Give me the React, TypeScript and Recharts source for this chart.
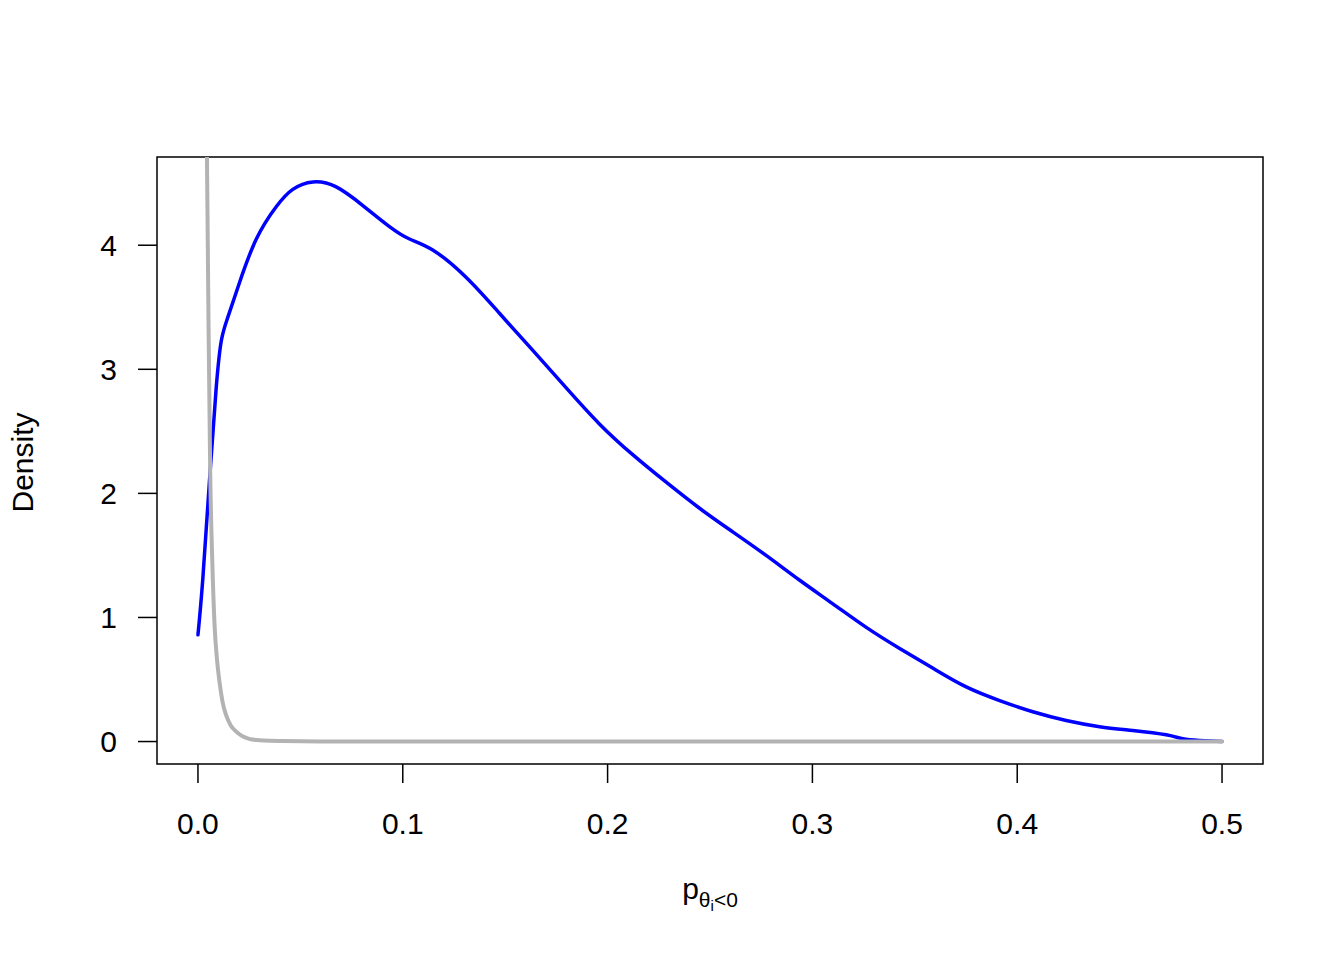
import React from 'react';
import { LineChart, Line, XAxis, YAxis, ReferenceArea, Label } from 'recharts';

// posterior density (blue)
const POSTERIOR_X = [
  0, 0.0024, 0.0057, 0.0089, 0.0114, 0.0146, 0.0203, 0.0285, 0.0382, 0.0463,
  0.0561, 0.0675, 0.0805, 0.0935, 0.1033, 0.1148, 0.131, 0.1473, 0.1636, 0.1798,
  0.196, 0.2124, 0.2286, 0.2449, 0.2611, 0.2774, 0.2938, 0.31, 0.3263, 0.3426,
  0.3589, 0.3751, 0.3914, 0.4076, 0.4239, 0.4402, 0.4564, 0.4727, 0.4808, 0.489, 0.5,
];
const POSTERIOR_Y = [
  0.86, 1.32, 2.12, 2.85, 3.23, 3.42, 3.7, 4.05, 4.31, 4.45,
  4.51, 4.47, 4.32, 4.15, 4.05, 3.96, 3.74, 3.45, 3.15, 2.85,
  2.56, 2.31, 2.09, 1.88, 1.69, 1.5, 1.3, 1.11, 0.92, 0.75,
  0.59, 0.44, 0.33, 0.24, 0.17, 0.12, 0.089, 0.054, 0.022, 0.008, 0,
];

// prior density (grey), shoots off the top near zero
const PRIOR_X = [
  0.002, 0.0035, 0.0044, 0.0052, 0.006, 0.007, 0.0081, 0.0093, 0.0106, 0.012,
  0.0138, 0.016, 0.0187, 0.022, 0.025, 0.03, 0.035, 0.0415, 0.06, 0.1, 0.5,
];
const PRIOR_Y = [
  10, 6.4, 4.7, 3.3, 2.15, 1.45, 0.94, 0.66, 0.47, 0.32,
  0.21, 0.13, 0.08, 0.04, 0.022, 0.011, 0.006, 0.004, 0.001, 0, 0,
];

const X_TICKS = [0, 0.1, 0.2, 0.3, 0.4, 0.5];
const Y_TICKS = [0, 1, 2, 3, 4];

const X_DOMAIN: [number, number] = [-0.02, 0.52];
const Y_DOMAIN: [number, number] = [-0.181, 4.711];

const FONT = '"Liberation Sans", Arial, Helvetica, sans-serif';

const posterior = POSTERIOR_X.map((x, i) => ({ x, y: POSTERIOR_Y[i] }));
const prior = PRIOR_X.map((x, i) => ({ x, y: PRIOR_Y[i] }));

const XLabel = (props: any) => {
  const { viewBox } = props;
  const cx = viewBox.x + viewBox.width / 2;
  const y = viewBox.y + 135;
  return (
    <text x={cx} y={y} textAnchor="middle" fontFamily={FONT} fill="#000">
      <tspan fontSize={30}>p</tspan>
      <tspan fontSize={21} dy={8}>θ</tspan>
      <tspan fontSize={15} dy={4}>i</tspan>
      <tspan fontSize={21} dy={-4}>{'<0'}</tspan>
    </text>
  );
};

const YLabel = (props: any) => {
  const { viewBox } = props;
  const cy = viewBox.y + viewBox.height / 2 + 2;
  const x = 33;
  return (
    <text
      x={x}
      y={cy}
      textAnchor="middle"
      fontFamily={FONT}
      fontSize={30}
      fill="#000"
      transform={`rotate(-90, ${x}, ${cy})`}
    >
      Density
    </text>
  );
};

export default function App() {
  return (
    <div style={{ position: 'absolute', left: 0, top: 0, background: '#fff' }}>
      <LineChart width={1344} height={960} margin={{ top: 157, right: 81, left: 0, bottom: 0 }}>
        <XAxis
          type="number"
          dataKey="x"
          domain={X_DOMAIN}
          ticks={X_TICKS}
          tickFormatter={(v: number) => v.toFixed(1)}
          allowDataOverflow
          height={196}
          axisLine={false}
          tickSize={19}
          tickMargin={30}
          tickLine={{ stroke: '#000', strokeWidth: 1.5 }}
          tick={{ fill: '#000', fontSize: 30, fontFamily: FONT }}
          interval={0}
        >
          <Label content={XLabel} />
        </XAxis>
        <YAxis
          type="number"
          dataKey="y"
          domain={Y_DOMAIN}
          ticks={Y_TICKS}
          allowDataOverflow
          width={157}
          axisLine={false}
          tickSize={19}
          tickMargin={21}
          tickLine={{ stroke: '#000', strokeWidth: 1.5 }}
          tick={{ fill: '#000', fontSize: 30, fontFamily: FONT }}
          interval={0}
        >
          <Label content={YLabel} />
        </YAxis>
        <ReferenceArea
          x1={X_DOMAIN[0]}
          x2={X_DOMAIN[1]}
          y1={Y_DOMAIN[0]}
          y2={Y_DOMAIN[1]}
          fill="none"
          stroke="#000"
          strokeWidth={1.5}
          ifOverflow="visible"
        />
        <Line
          data={posterior}
          dataKey="y"
          type="natural"
          stroke="#0000ff"
          strokeWidth={3.5}
          strokeLinecap="round"
          dot={false}
          activeDot={false}
          isAnimationActive={false}
        />
        <Line
          data={prior}
          dataKey="y"
          type="monotone"
          stroke="#b3b3b3"
          strokeWidth={4}
          strokeLinecap="round"
          dot={false}
          activeDot={false}
          isAnimationActive={false}
        />
      </LineChart>
    </div>
  );
}
